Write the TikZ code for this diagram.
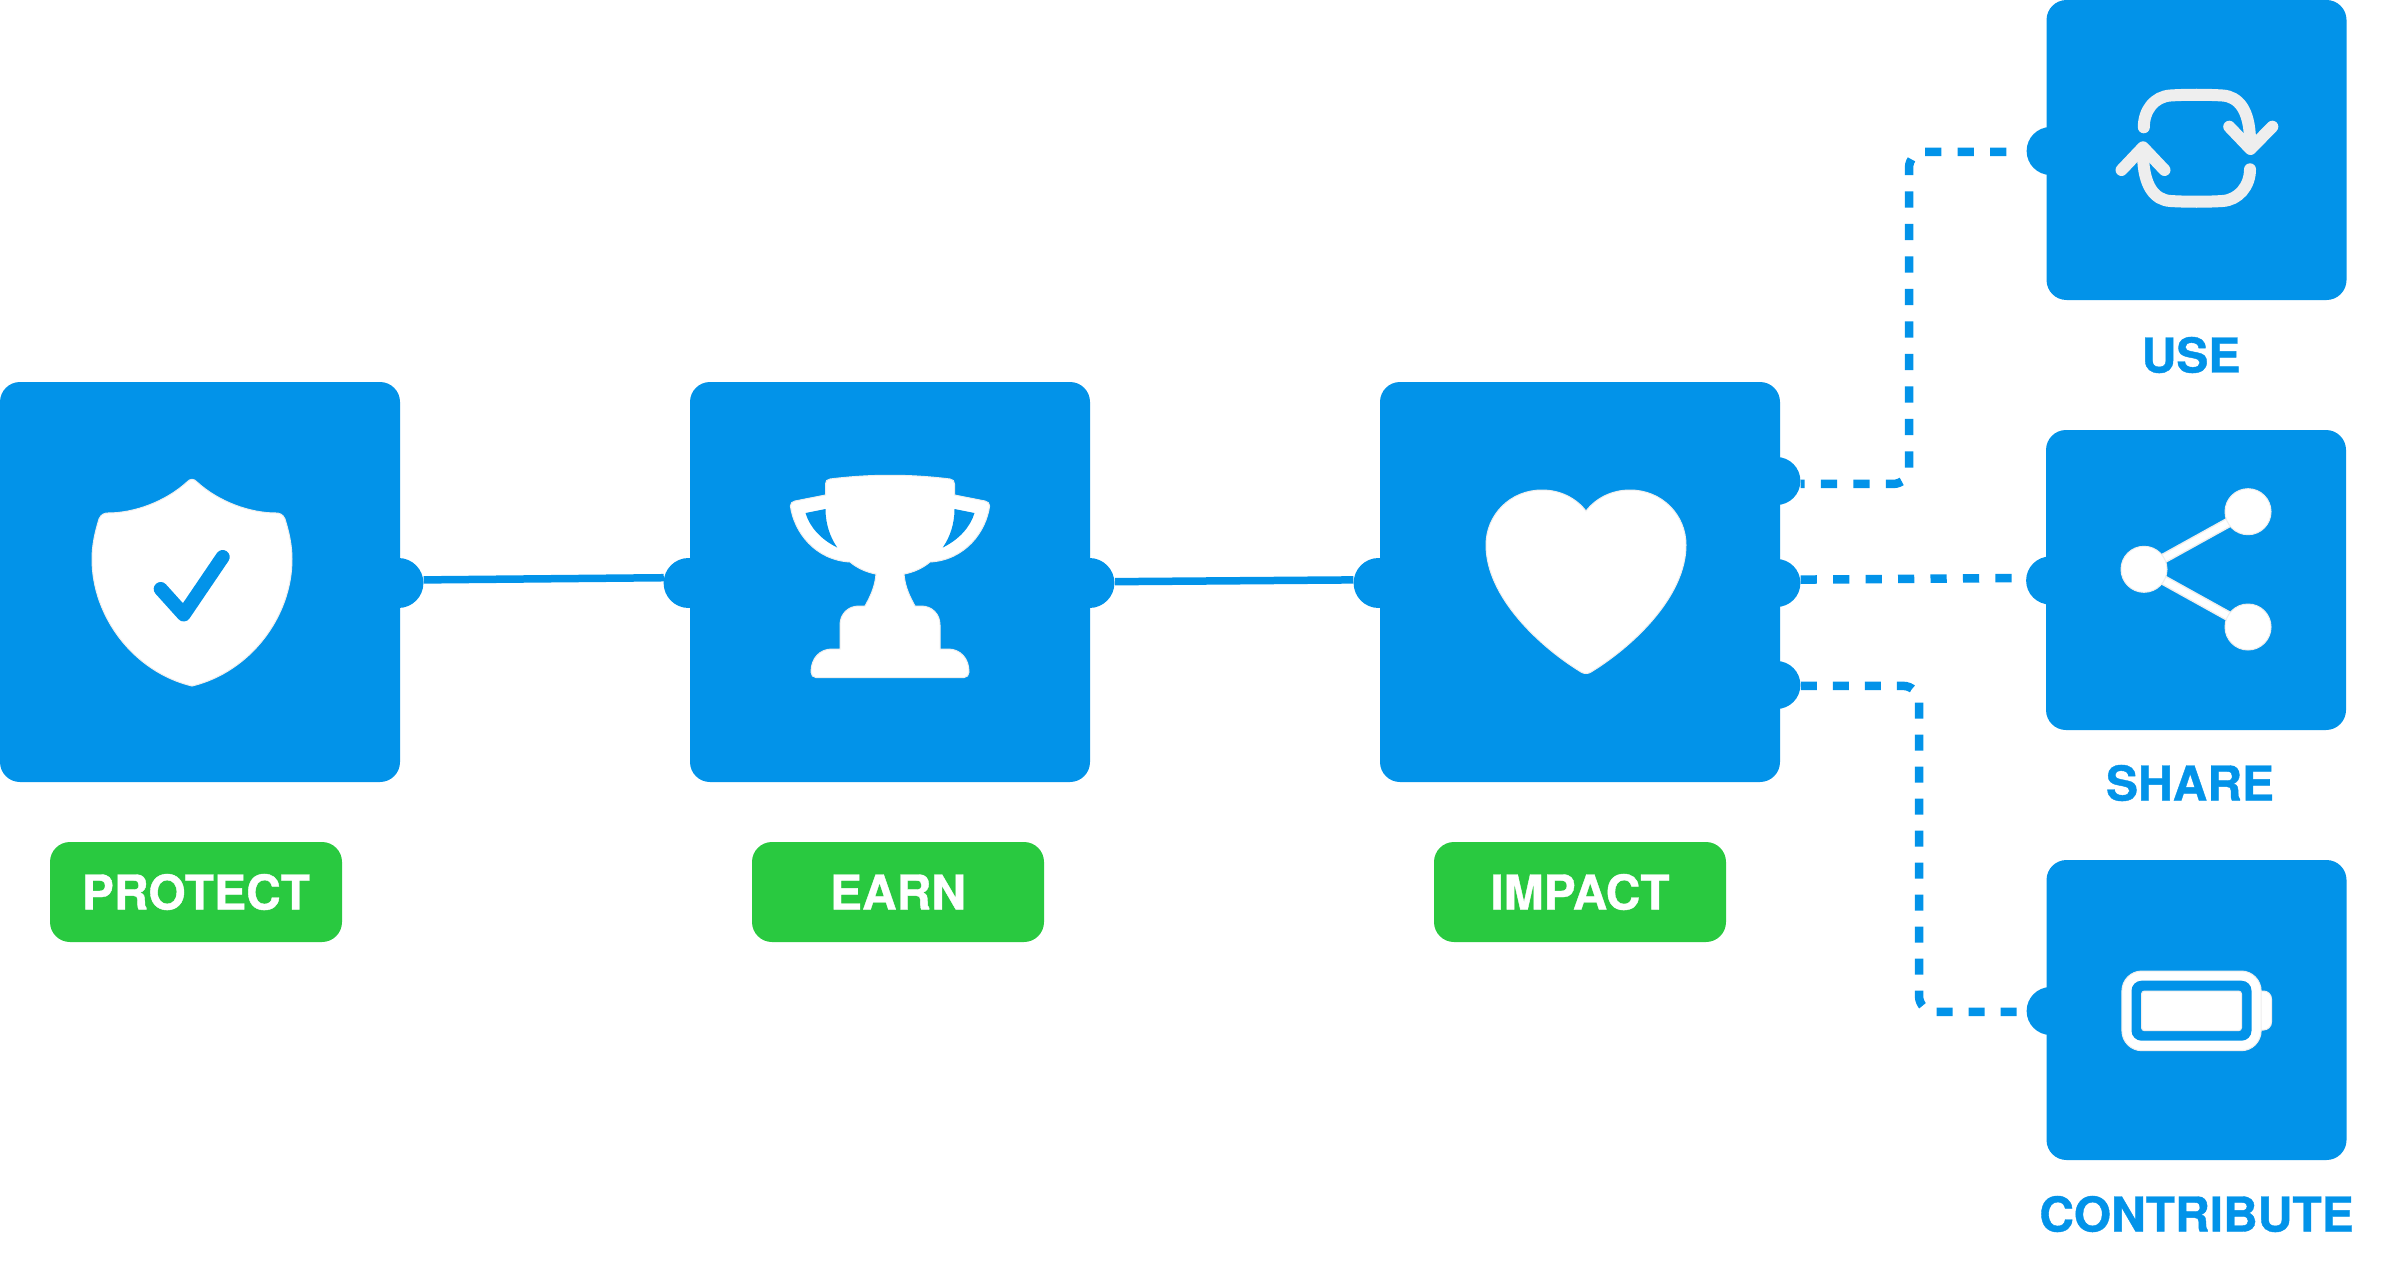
\documentclass[tikz,border=0pt]{standalone}
\usepackage{fontspec}
\setmainfont{TeX Gyre Heros}[BoldFeatures={FakeBold=0.8}]
\usetikzlibrary{positioning}
\definecolor{boxblue}{RGB}{2,147,233}
\definecolor{pillgreen}{RGB}{41,201,64}
\definecolor{iconedge}{RGB}{238,238,238}
\tikzset{
  bigbox/.style={fill=boxblue,rounded corners=10pt,minimum size=200pt,inner sep=0pt},
  smallbox/.style={fill=boxblue,rounded corners=10pt,minimum size=150pt,inner sep=0pt},
  port/.style={circle,fill=boxblue,inner sep=0pt,minimum size=#1},
  port/.default=25pt,
  pill/.style={fill=pillgreen,text=white,rounded corners=10pt,minimum width=146pt,minimum height=50pt,inner sep=0pt,font=\fontsize{24}{28}\bfseries},
  caption/.style={text=boxblue,inner sep=0pt,font=\fontsize{24}{28}\bfseries},
  wire/.style={draw=boxblue,line width=3.75pt},
  dashwire/.style={draw=boxblue,line width=4.25pt,rounded corners=8pt},
  px/.style={x=0.5pt,y=-0.5pt},
  icon/.style={fill=white,draw=iconedge,line width=0.5pt},
  stroke/.style={draw=iconedge,line width=6pt,line cap=round,line join=round}
}
\begin{document}
\begin{tikzpicture}[node distance=345pt,on grid]
   \useasboundingbox (0,0) rectangle (1191pt,-634pt);
   \node[bigbox] (protect) at (100pt,-291pt) {};
   \node[bigbox] (earn) [right=of protect] {};
   \node[bigbox] (impact) [right=of earn] {};
   \node[smallbox] (use) [above right=216pt and 308.25pt of impact] {};
   \node[smallbox] (share) [right=308pt of impact,yshift=1pt] {};
   \node[smallbox] (contribute) [below right=214pt and 308.25pt of impact] {};

   \node[pill] (protectlabel) [below=155pt of protect,xshift=-2pt] {PROTECT};
   \node[pill] (earnlabel) [below=155pt of earn,xshift=4pt] {EARN};
   \node[pill] (impactlabel) [below=155pt of impact] {IMPACT};
   \node[caption] (uselabel) [below=102.5pt of use,xshift=-2.75pt] {USE};
   \node[caption] (sharelabel) [below=101.5pt of share,xshift=-3pt] {SHARE};
   \node[caption] (contributelabel) [below=102pt of contribute] {CONTRIBUTE};

   \node[port] (protectout) [xshift=-1pt,yshift=-0.5pt] at (protect.east) {};
   \node[port] (earnin) [xshift=-0.5pt,yshift=-0.5pt] at (earn.west) {};
   \node[port] (earnout) [xshift=-0.5pt,yshift=-0.5pt] at (earn.east) {};
   \node[port] (impactin) [xshift=-0.5pt,yshift=-0.5pt] at (impact.west) {};
   \node[port=24pt] (impactuse) [xshift=-2pt,yshift=50.5pt] at (impact.east) {};
   \node[port=24pt] (impactshare) [xshift=-2pt,yshift=-0.5pt] at (impact.east) {};
   \node[port=24pt] (impactcontribute) [xshift=-2pt,yshift=-51.5pt] at (impact.east) {};
   \node[port=24pt] (usein) [xshift=2.25pt,yshift=-0.5pt] at (use.west) {};
   \node[port=24pt] (sharein) [xshift=2.25pt,yshift=-0.25pt] at (share.west) {};
   \node[port=24pt] (contributein) [xshift=2.25pt,yshift=-0.5pt] at (contribute.west) {};

   \coordinate [above right=141pt and 164.5pt of impact] (usebend);
   \coordinate [below right=134pt and 169.5pt of impact] (contributebend);

   \path[wire] (protectout.7.6) -- (earnin.168.5);
   \path[wire] (earnout.3) -- (impactin.173.6);
   \path[dashwire,shorten >=4pt,dash pattern=on 8.125pt off 8.125pt,dash phase=6.1pt]
      (impactuse.-7) -| (usebend) |- (usein.182);
   \path[dashwire,dash pattern=on 8.12pt off 8.12pt]
      (impactshare.8) -- (sharein.174.7);
   \path[dashwire,dash pattern=on 8pt off 8pt]
      (impactcontribute.-2) -| (contributebend) |- (contributein.182);

   \begin{scope}[px,shift={(protect.center)}]
      \path[icon] (-13,-100) .. controls (-10,-103.5) and (-6,-103.5) .. (-3,-100)
         .. controls (19,-80) and (50,-69) .. (76,-69)
         .. controls (79,-69) and (83,-68) .. (85,-63)
         .. controls (89,-50) and (92,-37) .. (92,-23)
         .. controls (92,35) and (50,90) .. (-8,104)
         .. controls (-66,90) and (-108,35) .. (-108,-23)
         .. controls (-108,-37) and (-105,-50) .. (-101,-63)
         .. controls (-99,-68) and (-95,-69) .. (-92,-69)
         .. controls (-66,-69) and (-35,-80) .. (-13,-100) -- cycle;
      \draw[boxblue,line width=7pt,line cap=round,line join=round]
         (-39.3,7) -- (-16.3,32.5) -- (22.7,-25);
   \end{scope}

   \begin{scope}[px,shift={(earn.center)}]
      \path[icon] (-60,-103) .. controls (-20,-108) and (20,-108) .. (60,-103)
         .. controls (63,-102.5) and (64.5,-101) .. (64.5,-98) -- (64.5,-87) -- (95,-81)
         .. controls (98,-80) and (99.6,-79) .. (99.6,-76)
         .. controls (96,-50) and (75,-22) .. (40,-20)
         .. controls (33,-14) and (23,-9.5) .. (14,-8)
         .. controls (15,5) and (20,15) .. (25,24) -- (31,24)
         .. controls (42,24) and (50,32) .. (50,43) -- (50,67) -- (58,67)
         .. controls (70,67) and (79,76) .. (79,90)
         .. controls (79,93) and (77,95.6) .. (74,95.6) -- (-74,95.6)
         .. controls (-77,95.6) and (-79,93) .. (-79,90)
         .. controls (-79,76) and (-70,67) .. (-58,67) -- (-50,67) -- (-50,43)
         .. controls (-50,32) and (-42,24) .. (-31,24) -- (-25,24)
         .. controls (-20,15) and (-15,5) .. (-14,-8)
         .. controls (-23,-9.5) and (-33,-14) .. (-40,-20)
         .. controls (-75,-22) and (-96,-50) .. (-99.6,-76)
         .. controls (-99.6,-79) and (-98,-80) .. (-95,-81) -- (-64.5,-87) -- (-64.5,-98)
         .. controls (-64.5,-101) and (-63,-102.5) .. (-60,-103) -- cycle;
      \fill[boxblue] (-84.5,-69) -- (-64.5,-73) .. controls (-64.5,-58) and (-60,-45) .. (-52.8,-34.5)
         .. controls (-68,-42) and (-80,-54) .. (-84.5,-69) -- cycle;
      \fill[boxblue] (84.5,-69) -- (64.5,-73) .. controls (64.5,-58) and (60,-45) .. (52.8,-34.5)
         .. controls (68,-42) and (80,-54) .. (84.5,-69) -- cycle;
   \end{scope}

   \begin{scope}[px,shift={(impact.center)}]
      \path[icon] (6,-71) .. controls (-4,-84) and (-20,-92) .. (-38,-92)
         .. controls (-70,-92) and (-94,-67) .. (-94,-37)
         .. controls (-94,15) and (-40,65) .. (1,90)
         .. controls (4,92) and (8,92) .. (11,90)
         .. controls (52,65) and (106,15) .. (106,-37)
         .. controls (106,-67) and (82,-92) .. (50,-92)
         .. controls (32,-92) and (16,-84) .. (6,-71) -- cycle;
   \end{scope}

   \begin{scope}[px,shift={(use.center)}]
      \draw[stroke] (-52.7,-22.7) .. controls (-52.7,-40) and (-42,-53.5) .. (-26,-54.5)
         .. controls (-10,-55.5) and (10,-55.5) .. (26,-54.5)
         .. controls (42,-53.5) and (53,-40) .. (53.5,-10);
      \draw[stroke] (32.7,-23.3) -- (54,-1) -- (75.8,-23.3);
      \draw[stroke] (53.5,19.3) .. controls (53.5,36) and (42,50) .. (26,51)
         .. controls (10,52) and (-10,52) .. (-26,51)
         .. controls (-42,50) and (-53,36) .. (-53.5,5);
      \draw[stroke] (-75,20) -- (-53.5,-2.7) -- (-32,20);
   \end{scope}

   \begin{scope}[px,shift={(share.center)}]
      \draw[iconedge,line width=5pt] (-52,-10.7) -- (52,-68.3);
      \draw[iconedge,line width=5pt] (-52,-10.7) -- (52,47);
      \draw[white,line width=3.5pt] (-52,-10.7) -- (52,-68.3);
      \draw[white,line width=3.5pt] (-52,-10.7) -- (52,47);
      \path[icon] (-52,-10.7) circle (23);
      \path[icon] (52,-68.3) circle (23);
      \path[icon] (52,47) circle (23);
   \end{scope}

   \begin{scope}[px,shift={(contribute.center)}]
      \path[icon,rounded corners=4pt] (50,-19) rectangle (75,20);
      \path[icon,rounded corners=10pt] (-74.6,-39) rectangle (64.6,40.7);
      \fill[boxblue,rounded corners=5pt] (-65,-29.3) rectangle (55,30.7);
      \path[icon,rounded corners=1.5pt] (-55,-19) rectangle (45,20.7);
   \end{scope}
\end{tikzpicture}
\end{document}
